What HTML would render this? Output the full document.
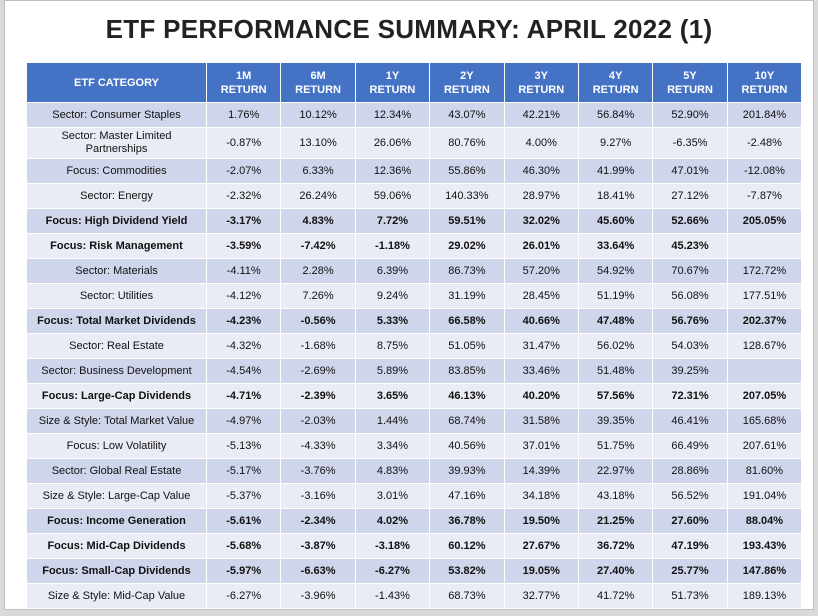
<!DOCTYPE html>
<html><head><meta charset="utf-8"><style>
html,body{margin:0;padding:0;}
body{width:818px;height:616px;background:#d9d9d9;position:relative;overflow:hidden;font-family:"Liberation Sans",sans-serif;}
#frame{position:absolute;left:4px;top:0;width:810px;height:610px;background:#fff;border:1px solid #bfbfbf;box-sizing:border-box;}
#title{position:absolute;left:0;top:14px;width:818px;text-align:center;font-weight:bold;font-size:26px;color:#222;letter-spacing:0.3px;}
table{position:absolute;left:26px;top:62px;border-collapse:collapse;table-layout:fixed;width:775px;}
td,th{border:1.5px solid #fff;text-align:center;font-size:11px;color:#111;padding:0 2px;}
th{background:#4472c4;color:#fff;font-weight:bold;height:39px;line-height:14px;font-size:11px;}
tr.o td{background:#cfd5ea;}
tr.e td{background:#e9ebf5;}
td{height:24px;line-height:13px;}
tr.b td{font-weight:bold;}
tr.t td{height:30px;}
</style></head><body>
<div id="frame"></div>
<div id="title">ETF PERFORMANCE SUMMARY: APRIL 2022 (1)</div>
<table>
<colgroup><col style="width:180px"><col span="8" style="width:74.4px"></colgroup>
<thead><tr>
<th>ETF CATEGORY</th>
<th>1M<br>RETURN</th>
<th>6M<br>RETURN</th>
<th>1Y<br>RETURN</th>
<th>2Y<br>RETURN</th>
<th>3Y<br>RETURN</th>
<th>4Y<br>RETURN</th>
<th>5Y<br>RETURN</th>
<th>10Y<br>RETURN</th>
</tr></thead>
<tbody>
<tr class="o"><td>Sector: Consumer Staples</td><td>1.76%</td><td>10.12%</td><td>12.34%</td><td>43.07%</td><td>42.21%</td><td>56.84%</td><td>52.90%</td><td>201.84%</td></tr>
<tr class="e t"><td>Sector: Master Limited<br>Partnerships</td><td>-0.87%</td><td>13.10%</td><td>26.06%</td><td>80.76%</td><td>4.00%</td><td>9.27%</td><td>-6.35%</td><td>-2.48%</td></tr>
<tr class="o"><td>Focus: Commodities</td><td>-2.07%</td><td>6.33%</td><td>12.36%</td><td>55.86%</td><td>46.30%</td><td>41.99%</td><td>47.01%</td><td>-12.08%</td></tr>
<tr class="e"><td>Sector: Energy</td><td>-2.32%</td><td>26.24%</td><td>59.06%</td><td>140.33%</td><td>28.97%</td><td>18.41%</td><td>27.12%</td><td>-7.87%</td></tr>
<tr class="o b"><td>Focus: High Dividend Yield</td><td>-3.17%</td><td>4.83%</td><td>7.72%</td><td>59.51%</td><td>32.02%</td><td>45.60%</td><td>52.66%</td><td>205.05%</td></tr>
<tr class="e b"><td>Focus: Risk Management</td><td>-3.59%</td><td>-7.42%</td><td>-1.18%</td><td>29.02%</td><td>26.01%</td><td>33.64%</td><td>45.23%</td><td></td></tr>
<tr class="o"><td>Sector: Materials</td><td>-4.11%</td><td>2.28%</td><td>6.39%</td><td>86.73%</td><td>57.20%</td><td>54.92%</td><td>70.67%</td><td>172.72%</td></tr>
<tr class="e"><td>Sector: Utilities</td><td>-4.12%</td><td>7.26%</td><td>9.24%</td><td>31.19%</td><td>28.45%</td><td>51.19%</td><td>56.08%</td><td>177.51%</td></tr>
<tr class="o b"><td>Focus: Total Market Dividends</td><td>-4.23%</td><td>-0.56%</td><td>5.33%</td><td>66.58%</td><td>40.66%</td><td>47.48%</td><td>56.76%</td><td>202.37%</td></tr>
<tr class="e"><td>Sector: Real Estate</td><td>-4.32%</td><td>-1.68%</td><td>8.75%</td><td>51.05%</td><td>31.47%</td><td>56.02%</td><td>54.03%</td><td>128.67%</td></tr>
<tr class="o"><td>Sector: Business Development</td><td>-4.54%</td><td>-2.69%</td><td>5.89%</td><td>83.85%</td><td>33.46%</td><td>51.48%</td><td>39.25%</td><td></td></tr>
<tr class="e b"><td>Focus: Large-Cap Dividends</td><td>-4.71%</td><td>-2.39%</td><td>3.65%</td><td>46.13%</td><td>40.20%</td><td>57.56%</td><td>72.31%</td><td>207.05%</td></tr>
<tr class="o"><td>Size &amp; Style: Total Market Value</td><td>-4.97%</td><td>-2.03%</td><td>1.44%</td><td>68.74%</td><td>31.58%</td><td>39.35%</td><td>46.41%</td><td>165.68%</td></tr>
<tr class="e"><td>Focus: Low Volatility</td><td>-5.13%</td><td>-4.33%</td><td>3.34%</td><td>40.56%</td><td>37.01%</td><td>51.75%</td><td>66.49%</td><td>207.61%</td></tr>
<tr class="o"><td>Sector: Global Real Estate</td><td>-5.17%</td><td>-3.76%</td><td>4.83%</td><td>39.93%</td><td>14.39%</td><td>22.97%</td><td>28.86%</td><td>81.60%</td></tr>
<tr class="e"><td>Size &amp; Style: Large-Cap Value</td><td>-5.37%</td><td>-3.16%</td><td>3.01%</td><td>47.16%</td><td>34.18%</td><td>43.18%</td><td>56.52%</td><td>191.04%</td></tr>
<tr class="o b"><td>Focus: Income Generation</td><td>-5.61%</td><td>-2.34%</td><td>4.02%</td><td>36.78%</td><td>19.50%</td><td>21.25%</td><td>27.60%</td><td>88.04%</td></tr>
<tr class="e b"><td>Focus: Mid-Cap Dividends</td><td>-5.68%</td><td>-3.87%</td><td>-3.18%</td><td>60.12%</td><td>27.67%</td><td>36.72%</td><td>47.19%</td><td>193.43%</td></tr>
<tr class="o b"><td>Focus: Small-Cap Dividends</td><td>-5.97%</td><td>-6.63%</td><td>-6.27%</td><td>53.82%</td><td>19.05%</td><td>27.40%</td><td>25.77%</td><td>147.86%</td></tr>
<tr class="e"><td>Size &amp; Style: Mid-Cap Value</td><td>-6.27%</td><td>-3.96%</td><td>-1.43%</td><td>68.73%</td><td>32.77%</td><td>41.72%</td><td>51.73%</td><td>189.13%</td></tr>
</tbody></table>
</body></html>
